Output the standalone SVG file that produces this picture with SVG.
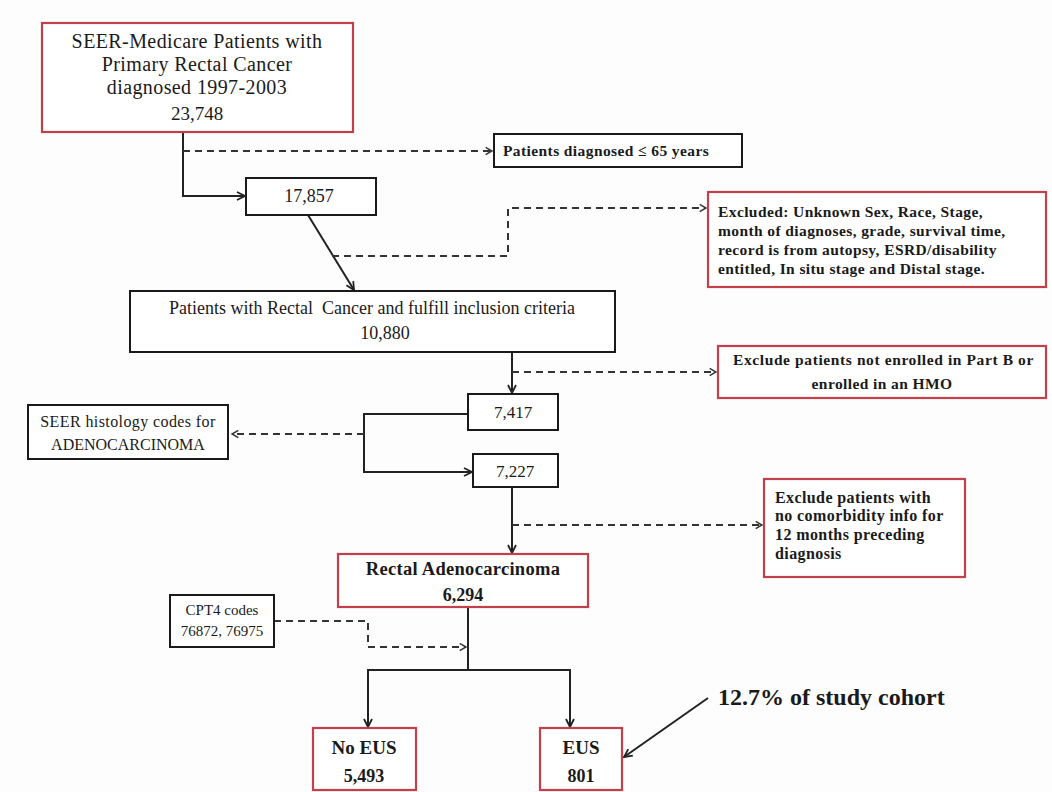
<svg xmlns="http://www.w3.org/2000/svg" width="1052" height="792" viewBox="0 0 1052 792">
<defs>
<style>
.bk{fill:#ffffff;stroke:#1a1a1a;stroke-width:2}
.rd{fill:#ffffff;stroke:#c2404a;stroke-width:2.2}
.t{font-family:"Liberation Serif","Times New Roman",serif;fill:#1a1a1a}
.b{font-weight:bold}
.c{text-anchor:middle}
.sl{fill:none;stroke:#222;stroke-width:2}
.dl{fill:none;stroke:#333;stroke-width:2;stroke-dasharray:7 5}
</style>
<marker id="ah" viewBox="0 0 10 10" refX="9" refY="5" markerWidth="10" markerHeight="10" markerUnits="userSpaceOnUse" orient="auto">
<path d="M1,1 L9,5 L1,9" fill="none" stroke="#222" stroke-width="1.8"/>
</marker>
<marker id="ao" viewBox="0 0 10 10" refX="9" refY="5" markerWidth="9" markerHeight="9" markerUnits="userSpaceOnUse" orient="auto">
<path d="M2,1 L9,5 L2,9" fill="none" stroke="#333" stroke-width="1.6"/>
</marker>
</defs>
<rect width="1052" height="792" fill="#fdfdfd"/>

<g id="connectors">
<path class="sl" d="M183,132 V196 H245" marker-end="url(#ah)"/>
<path class="dl" d="M183,151 H492" marker-end="url(#ao)"/>
<path class="sl" d="M308,215 L354,290" marker-end="url(#ah)"/>
<path class="dl" d="M332,256 H508 V208 H706" marker-end="url(#ao)"/>
<path class="sl" d="M512,352 V393" marker-end="url(#ah)"/>
<path class="dl" d="M512,372 H716" marker-end="url(#ao)"/>
<path class="sl" d="M468,414 H364 V472 H472" marker-end="url(#ah)"/>
<path class="dl" d="M364,434 H232" marker-end="url(#ao)"/>
<path class="sl" d="M512,487 V553" marker-end="url(#ah)"/>
<path class="dl" d="M512,525 H762" marker-end="url(#ao)"/>
<path class="sl" d="M468,607 V670"/>
<path class="sl" d="M468,670 H368 V727" marker-end="url(#ah)"/>
<path class="sl" d="M468,670 H570 V727" marker-end="url(#ah)"/>
<path class="dl" d="M274,621 H368 V647 H466" marker-end="url(#ao)"/>
<path class="sl" d="M708,698 L624,757" marker-end="url(#ah)"/>
</g>

<g id="n1">
<rect class="rd" x="42" y="23" width="311" height="109"/>
<text class="t c" x="197" y="48" font-size="20" letter-spacing="0.4">SEER-Medicare Patients with</text>
<text class="t c" x="197" y="71" font-size="20" letter-spacing="0.4">Primary Rectal Cancer</text>
<text class="t c" x="197" y="94" font-size="20" letter-spacing="0.4">diagnosed 1997-2003</text>
<text class="t c" x="197" y="120" font-size="19">23,748</text>
</g>

<g id="n2">
<rect class="bk" x="494" y="134" width="248" height="33"/>
<text class="t b" x="503" y="156" font-size="15.5" letter-spacing="0.4">Patients diagnosed ≤ 65 years</text>
</g>

<g id="n3">
<rect class="bk" x="246" y="178" width="130" height="37"/>
<text class="t c" x="309" y="202" font-size="18">17,857</text>
</g>

<g id="n4">
<rect class="rd" x="708" y="192" width="338" height="95"/>
<text class="t b" x="718" y="217" font-size="15.5" letter-spacing="0.4">Excluded: Unknown Sex, Race, Stage,</text>
<text class="t b" x="718" y="236" font-size="15.5" letter-spacing="0.4">month of diagnoses, grade, survival time,</text>
<text class="t b" x="718" y="255" font-size="15.5" letter-spacing="0.4">record is from autopsy, ESRD/disability</text>
<text class="t b" x="718" y="274" font-size="15.5" letter-spacing="0.4">entitled, In situ stage and Distal stage.</text>
</g>

<g id="n5">
<rect class="bk" x="130" y="291" width="485" height="61"/>
<text class="t c" x="372" y="314" font-size="18" xml:space="preserve">Patients with Rectal  Cancer and fulfill inclusion criteria</text>
<text class="t c" x="385" y="339" font-size="18">10,880</text>
</g>

<g id="n6">
<rect class="rd" x="718" y="346" width="328" height="52"/>
<text class="t b" x="733" y="365" font-size="15.5" letter-spacing="0.6">Exclude patients not enrolled in Part B or</text>
<text class="t b c" x="882" y="389" font-size="15.5" letter-spacing="0.4">enrolled in an HMO</text>
</g>

<g id="n7">
<rect class="bk" x="468" y="394" width="90" height="36"/>
<text class="t c" x="513" y="418" font-size="17">7,417</text>
</g>

<g id="n8">
<rect class="bk" x="28" y="405" width="200" height="54"/>
<text class="t c" x="128" y="427" font-size="16" letter-spacing="0.4">SEER histology codes for</text>
<text class="t c" x="128" y="450" font-size="16">ADENOCARCINOMA</text>
</g>

<g id="n9">
<rect class="bk" x="473" y="454" width="85" height="33"/>
<text class="t c" x="515" y="477" font-size="17">7,227</text>
</g>

<g id="n10">
<rect class="rd" x="764" y="479" width="201" height="98"/>
<text class="t b" x="775" y="503" font-size="16" letter-spacing="0.4">Exclude patients with</text>
<text class="t b" x="775" y="521" font-size="16" letter-spacing="0.4">no comorbidity info for</text>
<text class="t b" x="775" y="540" font-size="16" letter-spacing="0.4">12 months preceding</text>
<text class="t b" x="775" y="559" font-size="16" letter-spacing="0.4">diagnosis</text>
</g>

<g id="n11">
<rect class="rd" x="338" y="554" width="250" height="53"/>
<text class="t b c" x="463" y="575" font-size="18.5" letter-spacing="0.3">Rectal Adenocarcinoma</text>
<text class="t b c" x="463" y="601" font-size="18">6,294</text>
</g>

<g id="n12">
<rect class="bk" x="170" y="595" width="104" height="52"/>
<text class="t c" x="222" y="615" font-size="15">CPT4 codes</text>
<text class="t c" x="222" y="636" font-size="15">76872, 76975</text>
</g>

<g id="n13">
<rect class="rd" x="313" y="728" width="103" height="62"/>
<text class="t b c" x="364" y="754" font-size="19">No EUS</text>
<text class="t b c" x="364" y="782" font-size="18">5,493</text>
</g>

<g id="n14">
<rect class="rd" x="540" y="728" width="82" height="62"/>
<text class="t b c" x="581" y="754" font-size="19">EUS</text>
<text class="t b c" x="581" y="782" font-size="18">801</text>
</g>

<g id="n15">
<text class="t b" x="718" y="705" font-size="24">12.7% of study cohort</text>
</g>
</svg>
